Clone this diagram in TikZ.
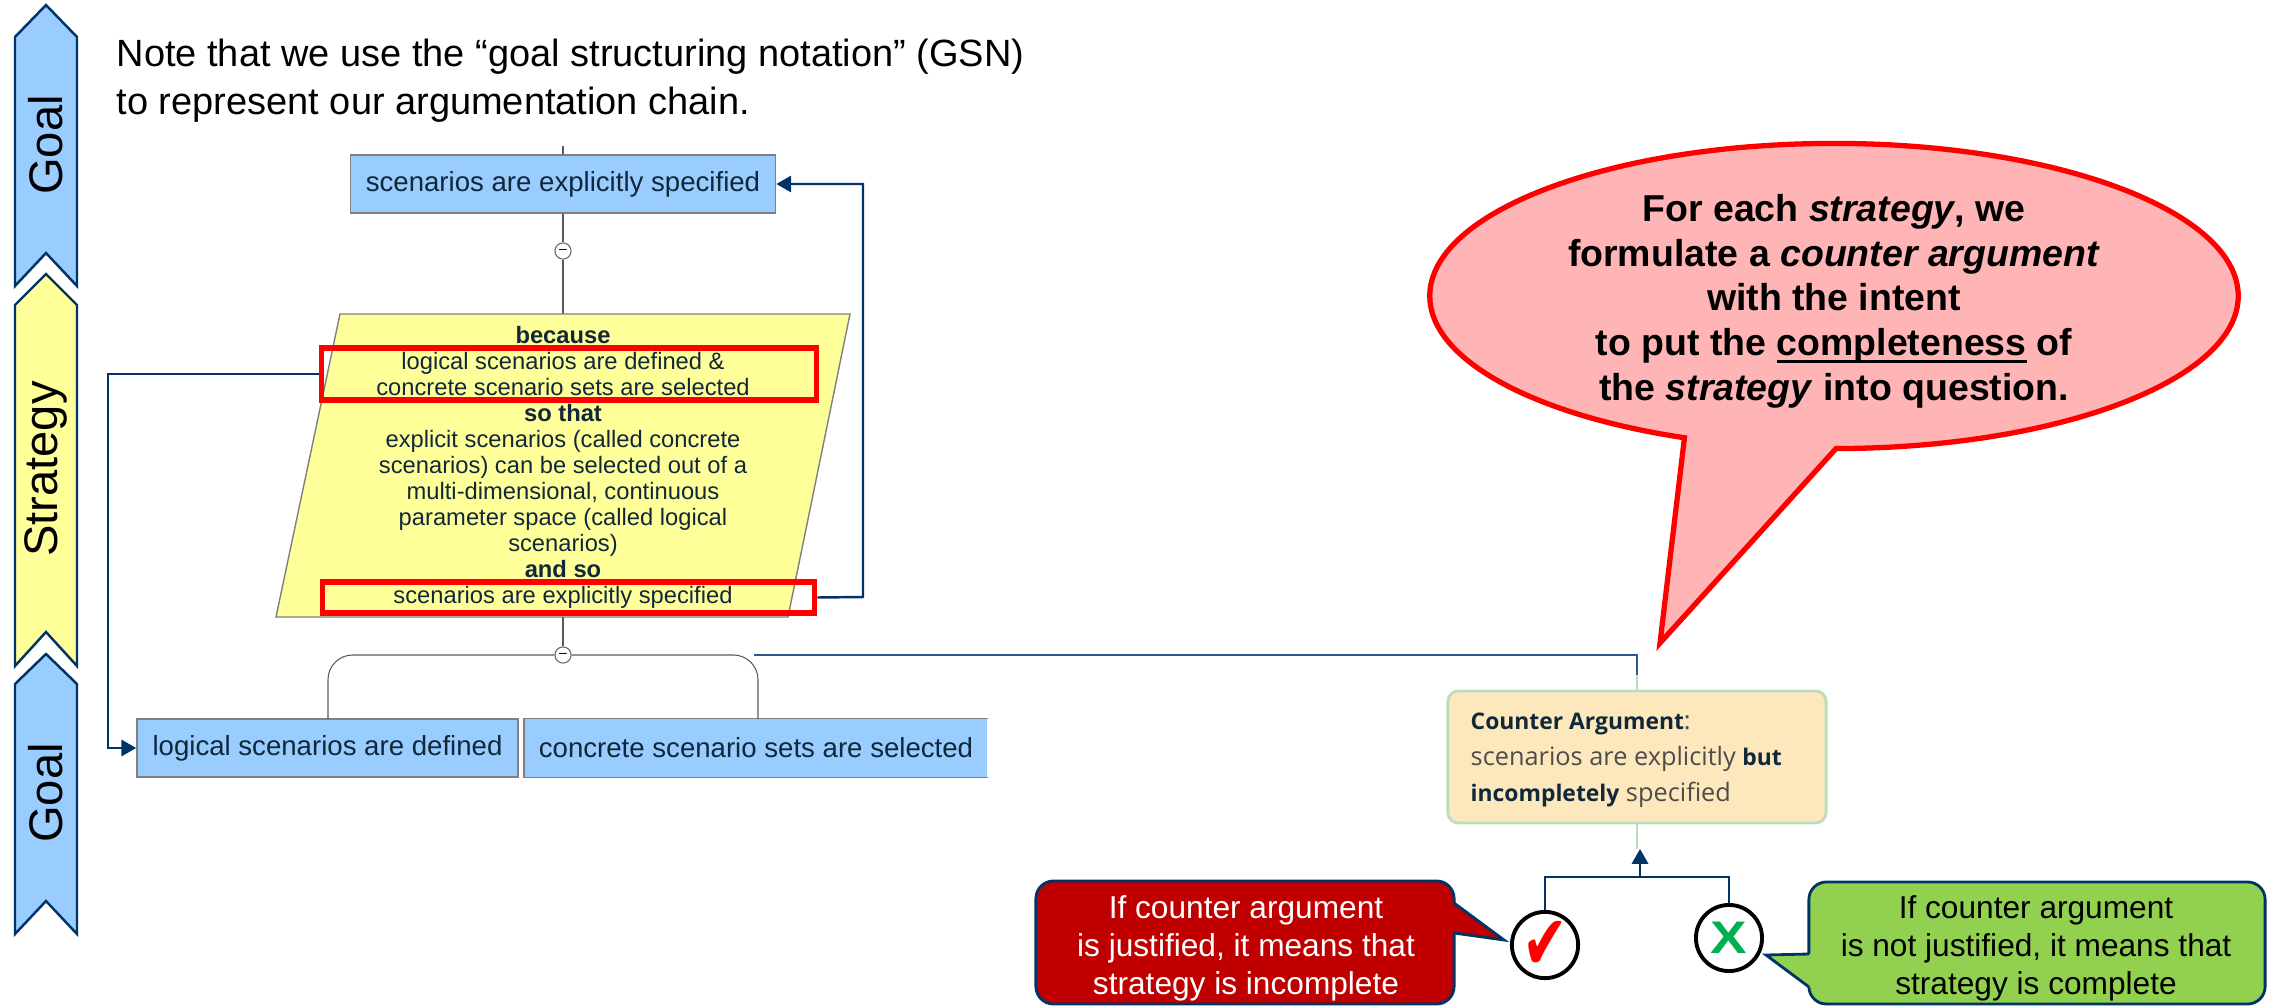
\documentclass[tikz,border=0pt]{standalone}
\usepackage{fontspec}
\setmainfont{Liberation Sans}
\newfontfamily\ubfont{Open Sans}
\newfontfamily\symfont{DejaVu Sans}
\usetikzlibrary{calc,
	positioning,
	shapes,
	shapes.callouts,
	arrows.meta}
\definecolor{goalblue}{HTML}{99CCFF}
\definecolor{stratyellow}{HTML}{FFFF99}
\definecolor{navyline}{HTML}{003366}
\definecolor{inkdark}{HTML}{10283A}
\definecolor{steelline}{HTML}{2F5A8A}
\definecolor{bubblefill}{HTML}{FFB5B5}
\definecolor{sandfill}{HTML}{FCE8BC}
\definecolor{sandline}{HTML}{BBDDBB}
\definecolor{calljustfill}{HTML}{C00000}
\definecolor{callnotfill}{HTML}{92D050}
\definecolor{crossgreen}{HTML}{00B050}
\newcommand{\cabold}[1]{{\fontsize{6.5}{10.2}\bfseries\selectfont\textcolor{inkdark}{#1}}}
\newcommand{\thickul}[1]{\sbox0{#1}\rlap{\rule[-2.2pt]{\wd0}{0.9pt}}\usebox0}
\tikzstyle{sidearrow}=[draw=navyline, line width=0.7pt, line join=miter]
\tikzstyle{sidetext}=[rotate=90, inner sep=0, font=\fontsize{13.4}{15}\selectfont]
\tikzstyle{gsnbox}=[draw=gray, fill=goalblue, line width=0.4pt, inner sep=0, text=inkdark, font=\fontsize{7.85}{9}\selectfont]
\tikzstyle{gsnline}=[draw=black!65, line width=0.3pt]
\tikzstyle{gsnknob}=[draw=black!60, fill=white, circle, line width=0.3pt, inner sep=0, minimum size=4.6pt, font=\fontsize{4}{4}\selectfont]
\tikzstyle{linkline}=[draw=navyline, line width=0.7pt]
\tikzstyle{linkarrow}=[linkline, -{Triangle[length=4.2pt, width=4.6pt]}]
\tikzstyle{redframe}=[draw=red, line width=1.6pt, inner sep=0]
\tikzstyle{markcircle}=[draw=black, fill=white, circle, line width=1.1pt, inner sep=0, minimum size=18.8pt]
\tikzstyle{callbody}=[draw=navyline, line width=0.8pt, rounded corners=5pt, align=center, inner sep=0, font=\fontsize{9}{10.8}\selectfont]
\begin{document}
\begin{tikzpicture}[x=0.01cm, y=-0.01cm]
	\useasboundingbox (0,0) rectangle (2272,1006);
	\draw[sidearrow, fill=goalblue] (46,5) -- (77,37) -- (77,286) -- (46,253) -- (15,286) -- (15,37) -- cycle;
	\draw[sidearrow, fill=stratyellow] (46,274) -- (77,305) -- (77,666) -- (46,632) -- (15,666) -- (15,305) -- cycle;
	\draw[sidearrow, fill=goalblue] (46,654) -- (77,684) -- (77,934) -- (46,901) -- (15,934) -- (15,684) -- cycle;
	\node[sidetext] (goaltop) at (46,145) {Goal};
	\node[sidetext] (strategy) at (46,469) {Strategy};
	\node[sidetext] (goalbottom) at (46,793) {Goal};
	\node[anchor=north west, align=left, inner sep=0, font=\fontsize{10.8}{13.6}\selectfont] (note) at (116,38) {Note that we use the “goal structuring notation” (GSN)\\to represent our argumentation chain.};
	\node[gsnbox, minimum width=4.25cm, minimum height=0.58cm] (topgoal) at (563,184) {scenarios are explicitly specified};
	\coordinate (topstub) at (563,146);
	\coordinate (paratop) at (563,314);
	\coordinate (parabottom) at (563,617);
	\draw[gsnline] (topstub) -- (topgoal.north);
	\node[gsnknob] (knobtop) at (563,251) {--};
	\draw[gsnline] (topgoal.south) -- (knobtop.north);
	\draw[gsnline] (knobtop.south) -- (paratop);
	\draw[draw=gray, fill=stratyellow, line width=0.4pt] (340,314) -- (850,314) -- (788,617) -- (276,617) -- cycle;
	\node[align=center, inner sep=0, text=inkdark, font=\fontsize{6.75}{7.4}\selectfont] (reasoning) at (563,467) {\textbf{because}\\logical scenarios are defined \&\\concrete scenario sets are selected\\\textbf{so that}\\explicit scenarios (called concrete\\scenarios) can be selected out of a\\multi-dimensional, continuous\\parameter space (called logical\\scenarios)\\\textbf{and so}\\scenarios are explicitly specified};
	\node[redframe, minimum width=4.95cm, minimum height=0.52cm] (frameup) at (569,374) {};
	\node[redframe, minimum width=4.92cm, minimum height=0.31cm] (framelow) at (568.5,597.5) {};
	\node[gsnbox, minimum width=3.81cm, minimum height=0.58cm] (logical) at (327.5,748) {logical scenarios are defined};
	\node[gsnbox, draw=none, minimum width=4.62cm, minimum height=0.58cm] (concrete) at (756,748) {concrete scenario sets are selected};
	\draw[draw=gray, line width=0.4pt] (concrete.north east) -- (concrete.north west) -- (concrete.south west) -- (concrete.south east);
	\node[gsnknob] (knobfork) at (563,655) {--};
	\draw[gsnline] (parabottom) -- (knobfork.north);
	\draw[gsnline, rounded corners=7pt] (knobfork.west) -- (328,655) -- (328,719);
	\draw[gsnline, rounded corners=7pt] (knobfork.east) -- (758,655) -- (758,719);
	\draw[linkarrow] (frameup.west) -- (108,374) -- (108,748) -- (logical.west);
	\draw[linkarrow] (framelow.east) -- (863,597) -- (863,184) -- (topgoal.east);
	\node[ellipse callout, draw=red, fill=bubblefill, line width=1.5pt, inner sep=0, minimum width=8.08cm, minimum height=3.05cm, callout absolute pointer={(1660,643)}, callout pointer arc=22] (bubble) at (1834,296) {};
	\node[align=center, inner sep=0, font=\fontsize{10.65}{12.7}\bfseries\selectfont] (bubbletext) at (1834,301) {For each \textit{strategy}, we\\formulate a \textit{counter argument}\\with the intent\\to put the \thickul{completeness} of\\the \textit{strategy} into question.};
	\node[draw=sandline, fill=sandfill, line width=0.8pt, rounded corners=3pt, minimum width=3.78cm, minimum height=1.32cm, inner sep=0] (counter) at (1637,757) {};
	\node[anchor=west, align=left, inner sep=0, text=black!70, font=\ubfont\fontsize{7.2}{10.2}\selectfont] (countertext) at (1470,760) {\cabold{Counter Argument}:\\scenarios are explicitly \cabold{but}\\\cabold{incompletely} specified};
	\coordinate (longstart) at (754,655);
	\coordinate (longdrop) at (1637,675);
	\draw[draw=steelline, line width=0.5pt] (longstart) -| (longdrop);
	\draw[draw=sandline, line width=0.8pt] (longdrop) -- (counter.north);
	\coordinate (arrowtip) at (1640,849);
	\coordinate (forkmid) at (1640,877);
	\draw[draw=sandline, line width=0.8pt] (counter.south) -- (1637,849);
	\draw[linkarrow] (forkmid) -- (arrowtip);
	\node[markcircle, text=red, font=\symfont\bfseries\fontsize{15.5}{15.5}\selectfont] (justified) at (1545,945) {\scalebox{1}[1.4]{✔}};
	\node[markcircle, text=crossgreen, font=\bfseries\fontsize{13}{13}\selectfont] (rejected) at (1729,938) {\scalebox{1.2}[1]{X}};
	\draw[linkline] (justified.north) |- (forkmid);
	\draw[linkline] (forkmid) -| (rejected.north);
	\node[callbody, fill=calljustfill, text=white, minimum width=4.18cm, minimum height=1.23cm] (calljust) at (1245,942.5) {};
	\node[inner sep=0, align=center, text=white, font=\fontsize{9}{10.8}\selectfont] (calljusttext) at (1246,948) {If counter argument\\is justified, it means that\\strategy is incomplete};
	\coordinate (justup) at (1454,903);
	\coordinate (justlow) at (1454,933);
	\coordinate (justtip) at (1504,940);
	\fill[calljustfill] ([xshift=-1pt]justup) -- (justup) -- (justtip) -- (justlow) -- ([xshift=-1pt]justlow) -- cycle;
	\draw[linkline, line width=0.8pt] (justup) -- (justtip) -- (justlow);
	\node[callbody, fill=callnotfill, minimum width=4.56cm, minimum height=1.22cm] (callnot) at (2037,943) {};
	\node[inner sep=0, align=center, font=\fontsize{9}{10.8}\selectfont] (callnottext) at (2036,948) {If counter argument\\is not justified, it means that\\strategy is complete};
	\coordinate (notup) at (1809,954);
	\coordinate (notlow) at (1809,987);
	\coordinate (nottip) at (1766,955);
	\fill[callnotfill] ([xshift=1pt]notup) -- (notup) -- (nottip) -- (notlow) -- ([xshift=1pt]notlow) -- cycle;
	\draw[linkline, line width=0.8pt] (notup) -- (nottip) -- (notlow);
\end{tikzpicture}
\end{document}
